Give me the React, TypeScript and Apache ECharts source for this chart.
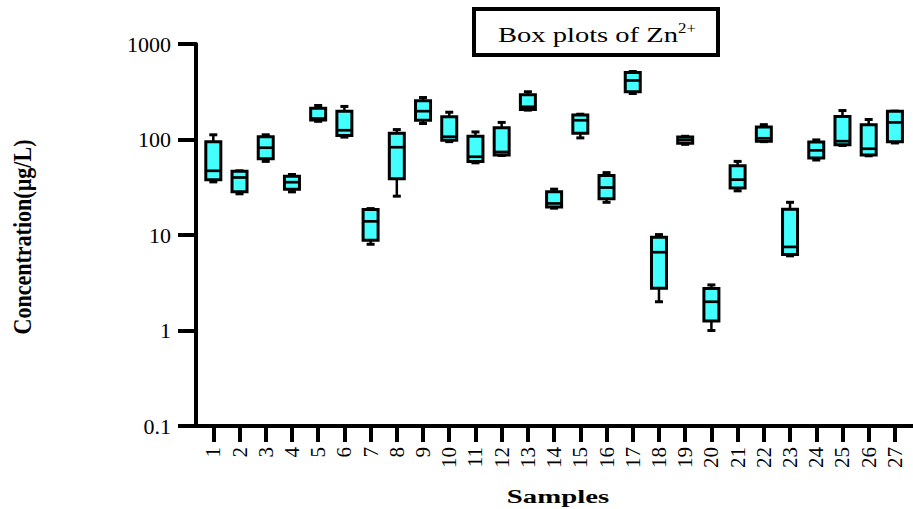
import React, { useEffect, useRef } from "react";
import * as echarts from "echarts";

const samples = ["1","2","3","4","5","6","7","8","9","10","11","12","13","14","15","16","17","18","19","20","21","22","23","24","25","26","27"];
const mins =    [36, 27, 59, 28.3, 155, 106, 8.0, 25.5, 147, 95, 57, 68, 203, 19.1, 104, 22, 303, 2.0, 89, 1.0, 29, 95, 6.05, 61, 86.5, 67.5, 92];
const q1s =     [38, 28.3, 63, 30.2, 160, 110, 8.8, 38.7, 159, 98, 59, 69, 206, 19.7, 116, 24, 316, 2.77, 91.5, 1.26, 31, 96, 6.25, 64, 88, 69, 95];
const medians = [47, 40, 82, 35.7, 166, 125, 13.9, 83, 198, 107, 66, 74, 220, 21.4, 159, 31.4, 415, 6.6, 99, 2.0, 38, 103, 7.5, 77, 96, 80, 151];
const q3s =     [95, 46.6, 107, 41.3, 213, 198, 18.5, 116, 254, 173, 108, 133, 294, 28.3, 180, 42, 503, 9.5, 106, 2.75, 53, 135, 18.6, 94, 174, 143, 198];
const maxs =    [112, 47, 112, 43, 227, 222, 18.9, 127, 275, 193, 120, 151, 316, 30.2, 184, 45, 515, 10.1, 108, 3.0, 59, 143, 22, 99, 201, 162, 198];
const yTicks = [0.1, 1, 10, 100, 1000];

const FONT = "'Liberation Serif', 'Times New Roman', serif";

export default function App() {
  const ref = useRef<HTMLDivElement>(null);
  useEffect(() => {
    document.body.style.margin = "0";
    if (!ref.current) return;
    const chart = echarts.init(ref.current, null, { renderer: "svg" });
    const data = samples.map((s, i) => [Number(s), mins[i], q1s[i], medians[i], q3s[i], maxs[i]]);
    const option: any = {
      animation: false,
      backgroundColor: "#ffffff",
      grid: { left: 196, right: 0, top: 44, bottom: 83 },
      xAxis: {
        type: "value",
        min: 0.34,
        max: 27.69,
        axisLine: { show: true, lineStyle: { color: "#000", width: 4 } },
        axisTick: { show: true, length: 16, lineStyle: { color: "#000", width: 4 }, customValues: samples.map(Number) },
        axisLabel: {
          show: true, rotate: 90, margin: 21, fontSize: 21, fontFamily: FONT, color: "#000",
          customValues: samples.map(Number),
          formatter: (v: number) => String(v),
        },
        splitLine: { show: false },
      },
      yAxis: {
        type: "log",
        logBase: 10,
        min: 0.1,
        max: 1000,
        axisLine: { show: true, lineStyle: { color: "#000", width: 4 } },
        axisTick: { show: true, length: 18, lineStyle: { color: "#000", width: 4 }, customValues: yTicks },
        axisLabel: {
          show: true, margin: 25, fontSize: 22, fontFamily: FONT, color: "#000",
          customValues: yTicks,
          formatter: (v: number) => String(v),
        },
        minorTick: { show: false },
        splitLine: { show: false },
      },
      series: [
        {
          type: "custom",
          data,
          encode: { x: 0, y: [1, 2, 3, 4, 5] },
          renderItem: (params: any, api: any) => {
            const x = api.value(0);
            const lo = api.coord([x, api.value(1)]);
            const q1 = api.coord([x, api.value(2)]);
            const med = api.coord([x, api.value(3)]);
            const q3 = api.coord([x, api.value(4)]);
            const hi = api.coord([x, api.value(5)]);
            const cx = lo[0];
            const hb = 7.5;
            const hc = 4;
            const black = "#000";
            return {
              type: "group",
              children: [
                { type: "line", shape: { x1: cx, y1: hi[1], x2: cx, y2: q3[1] }, style: { stroke: black, lineWidth: 2.5 } },
                { type: "line", shape: { x1: cx, y1: q1[1], x2: cx, y2: lo[1] }, style: { stroke: black, lineWidth: 2.5 } },
                { type: "line", shape: { x1: cx - hc, y1: hi[1], x2: cx + hc, y2: hi[1] }, style: { stroke: black, lineWidth: 3 } },
                { type: "line", shape: { x1: cx - hc, y1: lo[1], x2: cx + hc, y2: lo[1] }, style: { stroke: black, lineWidth: 3 } },
                { type: "rect", shape: { x: cx - hb, y: q3[1], width: 2 * hb, height: q1[1] - q3[1] }, style: { fill: "#44FFFF", stroke: black, lineWidth: 3 } },
                { type: "line", shape: { x1: cx - hb, y1: med[1], x2: cx + hb, y2: med[1] }, style: { stroke: black, lineWidth: 2.7 } },
              ],
            };
          },
        },
      ],
      graphic: [
        { type: "rect", shape: { x: 474, y: 9, width: 244, height: 46 }, style: { fill: "#fff", stroke: "#000", lineWidth: 4 } },
        { type: "text", x: 498, y: 35, scaleX: 1.36, style: { text: "Box plots of Zn", font: `21px ${FONT}`, fill: "#000", align: "left", verticalAlign: "middle" } },
        { type: "text", x: 678, y: 28, scaleX: 1.2, style: { text: "2+", font: `14px ${FONT}`, fill: "#000", align: "left", verticalAlign: "middle" } },
        { type: "text", x: 22, y: 237, rotation: Math.PI / 2, scaleX: 1.05, scaleY: 1.2, style: { text: "Concentration(µg/L)", font: `bold 21px ${FONT}`, fill: "#000", align: "center", verticalAlign: "middle" } },
        { type: "text", x: 558, y: 497, scaleX: 1.6, style: { text: "Samples", font: `bold 18px ${FONT}`, fill: "#000", align: "center", verticalAlign: "middle" } },
      ],
    };
    chart.setOption(option);
    return () => chart.dispose();
  }, []);
  return <div ref={ref} style={{ width: 913, height: 509 }} />;
}
